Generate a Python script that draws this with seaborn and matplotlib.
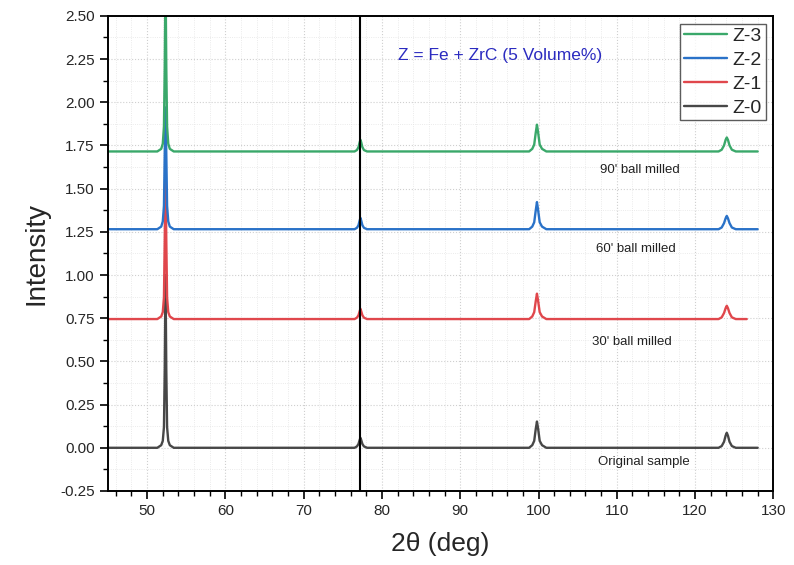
import numpy as np
import pandas as pd
import matplotlib
matplotlib.use('Agg')
import matplotlib.pyplot as plt
from matplotlib.ticker import MultipleLocator, FormatStrFormatter
import seaborn as sns

# diffraction angle grid (deg)
two_theta = [45.0, 51.3, 51.8, 52.0, 52.15, 52.25, 52.35, 52.45, 52.55, 52.7, 52.9, 53.4,
             76.5, 76.8, 77.0, 77.15, 77.25, 77.35, 77.5, 77.7, 78.1,
             98.8, 99.2, 99.45, 99.65, 99.8, 99.95, 100.15, 100.45, 101.0,
             123.0, 123.4, 123.7, 123.9, 124.05, 124.2, 124.4, 124.7, 125.2,
             126.6, 128.0]

z0 = [0.0, 0.0, 0.015, 0.04, 0.12, 0.45, 1.00, 0.45, 0.12, 0.04, 0.015, 0.0,
      0.0, 0.008, 0.022, 0.045, 0.058, 0.045, 0.022, 0.008, 0.0,
      0.0, 0.015, 0.04, 0.11, 0.152, 0.11, 0.04, 0.015, 0.0,
      0.0, 0.01, 0.035, 0.07, 0.087, 0.07, 0.035, 0.01, 0.0,
      0.0, 0.0]
z1 = [0.745, 0.745, 0.76, 0.785, 0.87, 1.20, 1.62, 1.20, 0.87, 0.785, 0.76, 0.745,
      0.745, 0.753, 0.767, 0.79, 0.805, 0.79, 0.767, 0.753, 0.745,
      0.745, 0.76, 0.785, 0.85, 0.892, 0.85, 0.785, 0.76, 0.745,
      0.745, 0.755, 0.78, 0.808, 0.822, 0.808, 0.78, 0.755, 0.745,
      0.745, np.nan]
z2 = [1.265, 1.265, 1.28, 1.31, 1.40, 1.70, 1.97, 1.70, 1.40, 1.31, 1.28, 1.265,
      1.265, 1.273, 1.288, 1.315, 1.331, 1.315, 1.288, 1.273, 1.265,
      1.265, 1.28, 1.305, 1.375, 1.422, 1.375, 1.305, 1.28, 1.265,
      1.265, 1.275, 1.30, 1.328, 1.342, 1.328, 1.30, 1.275, 1.265,
      1.265, 1.265]
z3 = [1.715, 1.715, 1.73, 1.76, 1.86, 2.20, 2.75, 2.20, 1.86, 1.76, 1.73, 1.715,
      1.715, 1.723, 1.74, 1.768, 1.783, 1.768, 1.74, 1.723, 1.715,
      1.715, 1.73, 1.755, 1.825, 1.870, 1.825, 1.755, 1.73, 1.715,
      1.715, 1.725, 1.75, 1.782, 1.796, 1.782, 1.75, 1.725, 1.715,
      1.715, 1.715]

samples = ['Z-0', 'Z-1', 'Z-2', 'Z-3']
colors = ['#474747', '#e0474c', '#2a72c8', '#3aa86a']
notes = ['Original sample', "30' ball milled", "60' ball milled", "90' ball milled"]
note_x = [113.4, 111.9, 112.4, 113.0]
note_y = [-0.08, 0.61, 1.15, 1.61]
ref_line = 77.2

df = pd.concat([pd.DataFrame({'2theta': two_theta, 'I': y, 'sample': s})
                for s, y in zip(samples, [z0, z1, z2, z3])], ignore_index=True)

sns.set_theme(style='ticks')
plt.rcParams['font.family'] = ['Liberation Sans', 'DejaVu Sans']

fig = plt.figure(figsize=(7.94, 5.65), dpi=100)
ax = fig.add_axes([0.136, 0.131, 0.838, 0.841])

sns.lineplot(data=df, x='2theta', y='I', hue='sample', palette=colors,
             hue_order=samples, sort=False, estimator=None, linewidth=1.7,
             ax=ax, legend=False)
ax.axvline(ref_line, color='black', linewidth=1.5)

ax.set_xlim(45, 130)
ax.set_ylim(-0.25, 2.5)
ax.xaxis.set_major_locator(MultipleLocator(10))
ax.xaxis.set_minor_locator(MultipleLocator(2))
ax.yaxis.set_major_locator(MultipleLocator(0.25))
ax.yaxis.set_minor_locator(MultipleLocator(0.125))
ax.yaxis.set_major_formatter(FormatStrFormatter('%.2f'))
ax.tick_params(which='major', direction='out', length=6, width=1.2, labelsize=11, color='black')
ax.tick_params(which='minor', direction='out', length=3.5, width=1.0, color='black')
ax.grid(which='major', linestyle=':', color='#cfcfcf', linewidth=0.8)
ax.grid(which='minor', linestyle=':', color='#e4e4e4', linewidth=0.6)
for sp in ax.spines.values():
    sp.set_linewidth(1.4)
    sp.set_color('black')

ax.set_xlabel('2θ (deg)', fontsize=19, labelpad=10)
ax.set_ylabel('Intensity', fontsize=20, labelpad=8)

ax.text(95.1, 2.27, 'Z = Fe + ZrC (5 Volume%)', color='#2b2bc0', fontsize=12.5,
        ha='center', va='center')
for t, x, y in zip(notes, note_x, note_y):
    ax.text(x, y, t, fontsize=9.5, ha='center', va='center', color='#222222')

handles = [plt.Line2D([], [], color=c, linewidth=1.7) for c in colors]
leg = ax.legend(handles[::-1], samples[::-1], loc='upper right', fontsize=14,
                frameon=True, fancybox=False, edgecolor='#333333',
                handlelength=2.2, handletextpad=0.3, borderpad=0.2,
                labelspacing=0.32, borderaxespad=0.4)
leg.get_frame().set_linewidth(1.0)

fig.savefig('out.png', dpi=100)
